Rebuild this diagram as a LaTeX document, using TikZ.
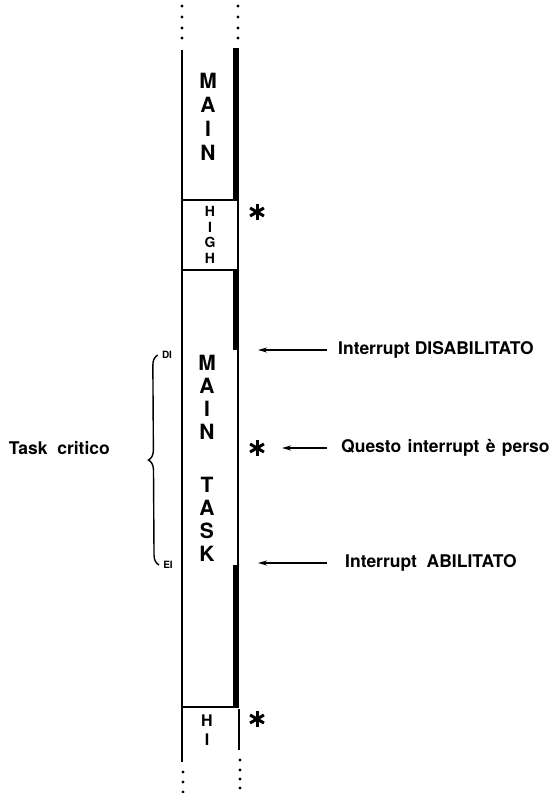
\documentclass[tikz,border=0pt]{standalone}
\usepackage{fontspec}
\setmainfont{TeX Gyre Heros}
\usetikzlibrary{calc,positioning,arrows.meta,decorations.pathreplacing}

\tikzset{
  track/.style={line width=1.8pt},
  busy/.style={line width=6pt},
  dotmark/.style={circle, fill, inner sep=0pt, minimum size=3.4pt},
  letters/.style={font=\bfseries\fontsize{21}{24}\selectfont, align=center, inner sep=0pt},
  small letters/.style={font=\bfseries\fontsize{14}{15.5}\selectfont, align=center, inner sep=0pt},
  note/.style={font=\bfseries\fontsize{17.5}{19}\selectfont, anchor=west, inner sep=0pt},
  pointer/.style={-{Stealth[length=9pt,width=5pt]}, line width=1.5pt},
}
\newcommand\starsign[1]{%
  \foreach \a in {90,30,150}
    \draw[line width=3pt] ($(#1)+(\a:8)$) -- ($(#1)+(\a+180:8)$);}
\newcommand\wsp{\ \hspace{1.5pt}}

\begin{document}
\begin{tikzpicture}[x=1pt,y=-1pt]
  \useasboundingbox (0,0) rectangle (559,793);
  % dots above and below the time line
  \foreach \y in {6,17,28,38} {
    \node[dotmark] (dtl\y) at (182,\y) {};
    \node[dotmark] (dtr\y) at (238,\y) {};
  }
  \foreach \y in {772,782,792}
    \node[dotmark] (dbl\y) at (183,\y) {};
  \foreach \y in {760,770,779,788}
    \node[dotmark] (dbr\y) at (240,\y) {};
  % left edge and right edge
  \draw[track] (182,50) -- (182,762);
  \draw[track] (238,200) -- (238,270);
  \draw[track] (238,350) -- (238,565);
  \draw[track] (239,709) -- (239,750);
  % thick bars
  \draw[busy] (236,48) -- (236,200);
  \draw[busy] (235.5,270) -- (235.5,350);
  \draw[busy] (236,565) -- (236,707);
  % separators
  \draw[track] (182,200) -- (239,200);
  \draw[track] (182,270) -- (239,270);
  \draw[track] (182,707) -- (239,707);

  % texts in the column
  \node[letters] (main) at (208,117) {M\\A\\I\\N};
  \node[small letters] (high) at (210,235) {H\\I\\G\\H};
  \node[letters, font=\bfseries\fontsize{21}{23}\selectfont] (task) at (207,458)
    {M\\A\\I\\N\\[30pt]T\\A\\S\\K};
  \node[small letters, font=\bfseries\fontsize{16}{19}\selectfont] (hi) at (207,730) {H\\I};

  % critical section
  \node[font=\bfseries\fontsize{10}{11}\selectfont, inner sep=0pt] (di) at (167,355) {DI};
  \node[font=\bfseries\fontsize{10}{11}\selectfont, inner sep=0pt] (ei) at (168,565) {EI};
  \draw[decorate, decoration={brace, amplitude=10pt}, line width=1.4pt]
    ([xshift=-4pt]ei.west) -- ([xshift=-4pt]di.west);
  \node[note, anchor=east] (crit) at (110,448) {Task\ \ critico};

  % interrupts
  \coordinate (starhigh) at (257,212);
  \coordinate (starlost) at (257,448);
  \coordinate (starhi) at (257,719);
  \starsign{starhigh}
  \starsign{starlost}
  \starsign{starhi}

  \node[note] (dis) at (338,350) {Interrupt DISABILITATO};
  \node[note] (lost) at (341,448) {Questo\wsp interrupt\wsp è\wsp perso};
  \node[note] (abil) at (345,563) {Interrupt\ \ ABILITATO};
  \coordinate (dishit) at (258,350);
  \coordinate (losthit) at (282,448);
  \coordinate (abilhit) at (258,563);
  \draw[pointer] ([xshift=-11pt]dis.west) -- (dishit);
  \draw[pointer] ([xshift=-14pt]lost.west) -- (losthit);
  \draw[pointer] ([xshift=-18pt]abil.west) -- (abilhit);
\end{tikzpicture}
\end{document}
